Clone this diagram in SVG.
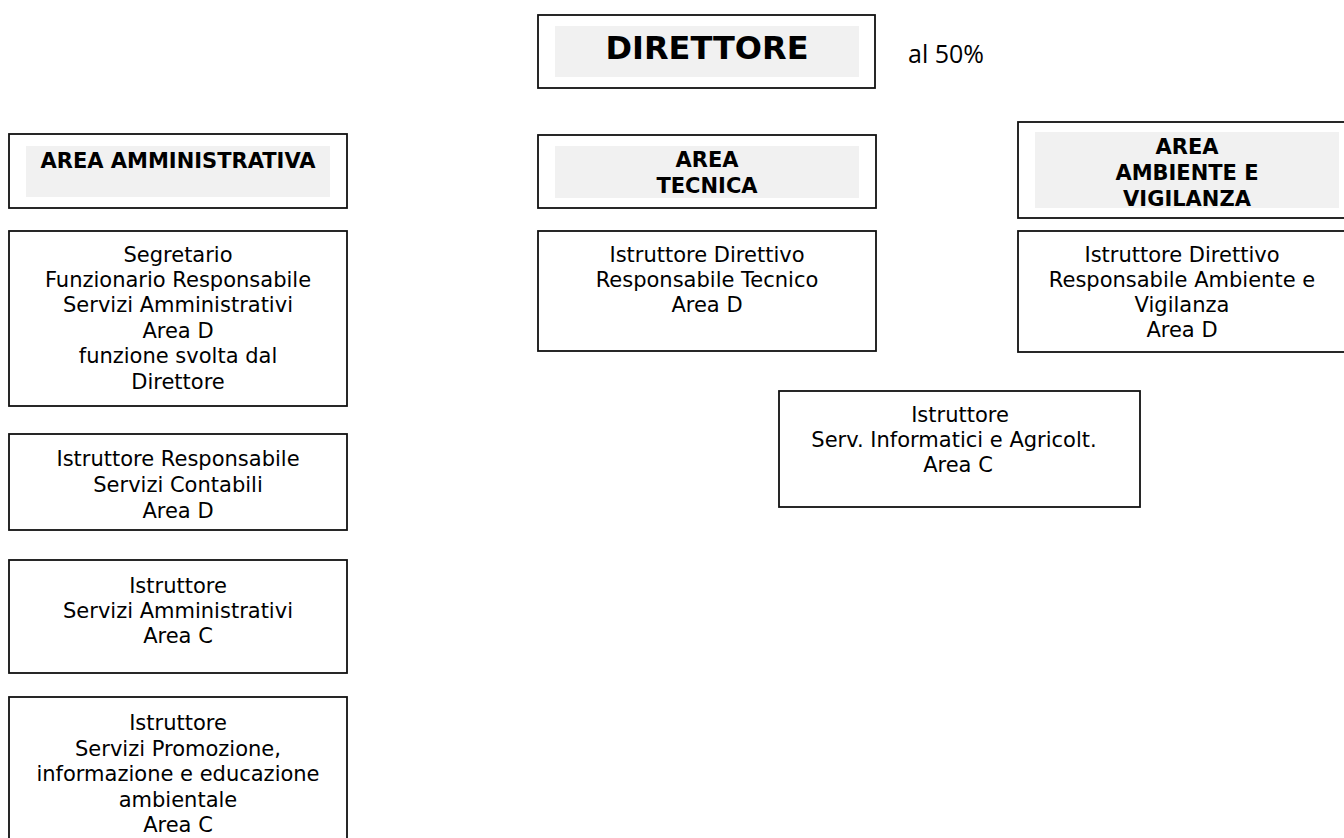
<svg xmlns="http://www.w3.org/2000/svg" width="1344" height="838" viewBox="0 0 1344 838">
<style>
  .box { fill: #ffffff; stroke: #111111; stroke-width: 1.8; }
  .shade { fill: #f1f1f1; stroke: none; }
  .t { font-family: "DejaVu Sans", Verdana, sans-serif; font-size: 21px; fill: #000; text-anchor: middle; }
  .h { font-family: "DejaVu Sans", Verdana, sans-serif; font-size: 21px; font-weight: bold; fill: #000; text-anchor: middle; }
  .big { font-family: "DejaVu Sans", Verdana, sans-serif; font-size: 32px; font-weight: bold; fill: #000; text-anchor: middle; }
  .note { font-family: "Open Sans", "Noto Sans", sans-serif; font-size: 25px; fill: #000; }
</style>
<rect width="1344" height="838" fill="#ffffff"/>
<g id="connectors"></g>

<g id="direttore">
  <rect class="box" x="538" y="15" width="337" height="73"/>
  <rect class="shade" x="555" y="26" width="304" height="51"/>
  <text class="big" x="707" y="59">DIRETTORE</text>
</g>
<g id="note-50">
  <text class="note" x="908" y="63">al 50%</text>
</g>

<g id="area-amministrativa">
  <rect class="box" x="9" y="134" width="338" height="74"/>
  <rect class="shade" x="26" y="146" width="304" height="51"/>
  <text class="h" x="178" y="168">AREA AMMINISTRATIVA</text>
</g>

<g id="area-tecnica">
  <rect class="box" x="538" y="135" width="338" height="73"/>
  <rect class="shade" x="555" y="146" width="304" height="52"/>
  <text class="h" x="707" y="167">AREA</text>
  <text class="h" x="707" y="193">TECNICA</text>
</g>

<g id="area-ambiente">
  <rect class="box" x="1018" y="122" width="338" height="96"/>
  <rect class="shade" x="1035" y="132" width="304" height="76"/>
  <text class="h" x="1187" y="154">AREA</text>
  <text class="h" x="1187" y="180">AMBIENTE E</text>
  <text class="h" x="1187" y="206">VIGILANZA</text>
</g>

<g id="segretario">
  <rect class="box" x="9" y="231" width="338" height="175"/>
  <text class="t" x="178" y="262">Segretario</text>
  <text class="t" x="178" y="287">Funzionario Responsabile</text>
  <text class="t" x="178" y="312">Servizi Amministrativi</text>
  <text class="t" x="178" y="338">Area D</text>
  <text class="t" x="178" y="363">funzione svolta dal</text>
  <text class="t" x="178" y="389">Direttore</text>
</g>

<g id="resp-tecnico">
  <rect class="box" x="538" y="231" width="338" height="120"/>
  <text class="t" x="707" y="262">Istruttore Direttivo</text>
  <text class="t" x="707" y="287">Responsabile Tecnico</text>
  <text class="t" x="707" y="312">Area D</text>
</g>

<g id="resp-ambiente">
  <rect class="box" x="1018" y="231" width="338" height="121"/>
  <text class="t" x="1182" y="262">Istruttore Direttivo</text>
  <text class="t" x="1182" y="287">Responsabile Ambiente e</text>
  <text class="t" x="1182" y="312">Vigilanza</text>
  <text class="t" x="1182" y="337">Area D</text>
</g>

<g id="serv-informatici">
  <rect class="box" x="779" y="391" width="361" height="116"/>
  <text class="t" x="960" y="422">Istruttore</text>
  <text class="t" x="954" y="447">Serv. Informatici e Agricolt.</text>
  <text class="t" x="958" y="472">Area C</text>
</g>

<g id="serv-contabili">
  <rect class="box" x="9" y="434" width="338" height="96"/>
  <text class="t" x="178" y="466">Istruttore Responsabile</text>
  <text class="t" x="178" y="492">Servizi Contabili</text>
  <text class="t" x="178" y="518">Area D</text>
</g>

<g id="serv-amministrativi">
  <rect class="box" x="9" y="560" width="338" height="113"/>
  <text class="t" x="178" y="593">Istruttore</text>
  <text class="t" x="178" y="618">Servizi Amministrativi</text>
  <text class="t" x="178" y="643">Area C</text>
</g>

<g id="serv-promozione">
  <rect class="box" x="9" y="697" width="338" height="160"/>
  <text class="t" x="178" y="730">Istruttore</text>
  <text class="t" x="178" y="756">Servizi Promozione,</text>
  <text class="t" x="178" y="781">informazione e educazione</text>
  <text class="t" x="178" y="807">ambientale</text>
  <text class="t" x="178" y="832">Area C</text>
</g>
</svg>
